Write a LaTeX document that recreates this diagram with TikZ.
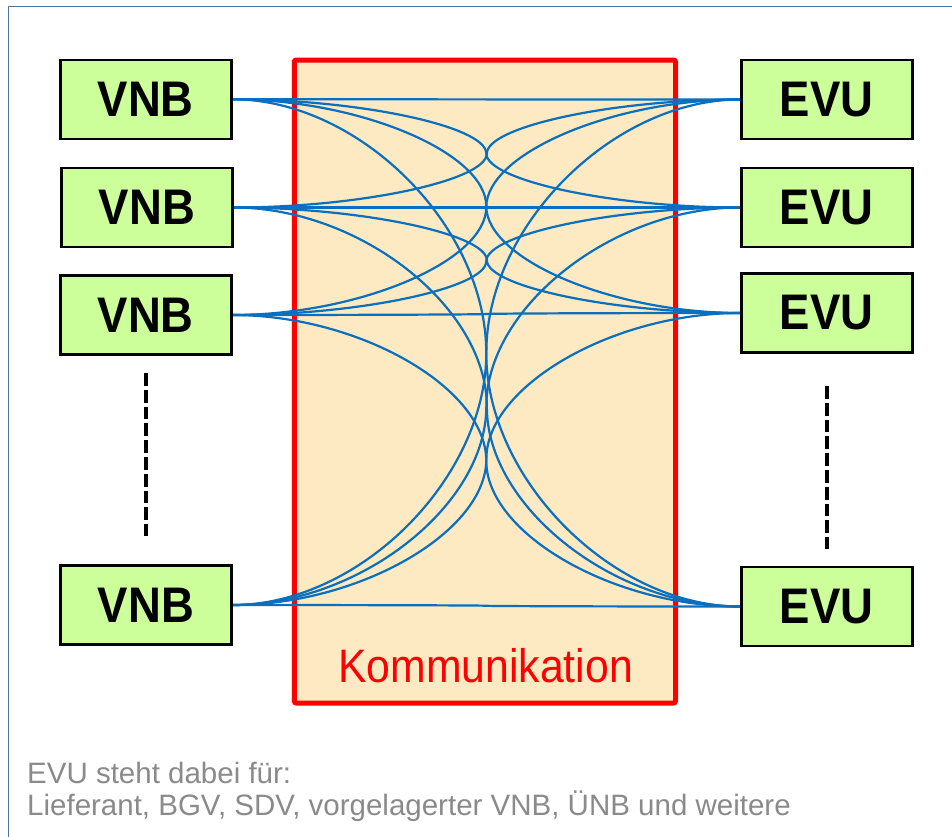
\documentclass[tikz,border=0pt]{standalone}
\usepackage{fontspec}
\setmainfont{Liberation Sans}
\newfontfamily\narrowsans[FakeStretch=0.91]{Liberation Sans}
\usetikzlibrary{calc}

\definecolor{framecol}{HTML}{4F7797}
\definecolor{boxgreen}{HTML}{CCFF99}
\definecolor{commfill}{HTML}{FDE9C2}
\definecolor{linkblue}{HTML}{0A6FBE}
\definecolor{notegray}{HTML}{8A8A8A}

\tikzset{
  party/.style={draw=black, line width=2.6pt, fill=boxgreen,
    minimum width=171pt, minimum height=79pt, inner sep=0pt,
    font=\narrowsans\bfseries\fontsize{50}{56}\selectfont},
  link/.style={draw=linkblue, line width=2.2pt},
  ellipsis/.style={draw=black, line width=4pt, dash pattern=on 12.7pt off 4.1pt},
  note/.style={anchor=base west, inner sep=0pt, text=notegray,
    font=\fontsize{29.5}{32}\selectfont},
}

% one curved connector: horizontal at both ends, vertical at the midpoint
\newcommand\linkcurve[2]{%
  \path (#1.east) coordinate (s) (#2.west) coordinate (e)
        ($(s)!0.5!(e)$) coordinate (m)
        (m|-s) coordinate (ms) (m|-e) coordinate (me);
  \draw[link] (s) .. controls ($(s)!0.5!(ms)$) and ($(m)!0.5!(ms)$) .. (m)
                  .. controls ($(m)!0.5!(me)$) and ($(e)!0.5!(me)$) .. (e);
}

\begin{document}
\begin{tikzpicture}[x=1pt, y=1pt]
  \useasboundingbox (0,0) rectangle (952,-836);
  \fill[white] (0,0) rectangle (952,-836);

  % outer frame
  \draw[framecol, line width=1.6pt] (8.5,-840) -- (8.5,-6.5) -- (956,-6.5);

  % communication area
  \draw[red, line width=5pt, fill=commfill, rounded corners=2pt]
    (294.3,-60) rectangle (675.5,-703);
  \node[red, inner sep=0pt, anchor=base, font=\narrowsans\fontsize{47}{52}\selectfont]
    (komm) at (485.5,-682) {Kommunikation};

  % network operators and suppliers
  \node[party] (v1) at (145.8,-99.3) {VNB};
  \node[party] (v2) at (147,-207.5) {VNB};
  \node[party] (v3) at (145.8,-315) {VNB};
  \node[party] (v4) at (146,-605) {VNB};

  \node[party] (e1) at (826.7,-99.5) {EVU};
  \node[party] (e2) at (826.7,-207.5) {EVU};
  \node[party] (e3) at (826.7,-313) {EVU};
  \node[party] (e4) at (826.7,-606.5) {EVU};

  % every VNB talks to every EVU
  \foreach \a in {v1,v2,v3,v4}{
    \foreach \b in {e1,e2,e3,e4}{
      \linkcurve{\a}{\b}
    }
  }

  % redraw the boxes above the connector ends
  \foreach \n/\t/\x/\y in {v1/VNB/145.8/-99.3, v2/VNB/147/-207.5, v3/VNB/145.8/-315, v4/VNB/146/-605,
                          e1/EVU/826.7/-99.5, e2/EVU/826.7/-207.5, e3/EVU/826.7/-313, e4/EVU/826.7/-606.5}{
    \node[party] at (\x,\y) {\t};
  }

  % further parties
  \coordinate (lt) at (146,-373);
  \coordinate (lb) at (146,-536);
  \coordinate (rt) at (827,-386);
  \coordinate (rb) at (827,-549);
  \draw[ellipsis] (lt) -- (lb);
  \draw[ellipsis] (rt) -- (rb);

  % explanation
  \node[note] (n1) at (27,-783) {EVU steht dabei für:};
  \node[note] (n2) at (27,-815) {Lieferant, BGV, SDV, vorgelagerter VNB, ÜNB und weitere};
\end{tikzpicture}
\end{document}
